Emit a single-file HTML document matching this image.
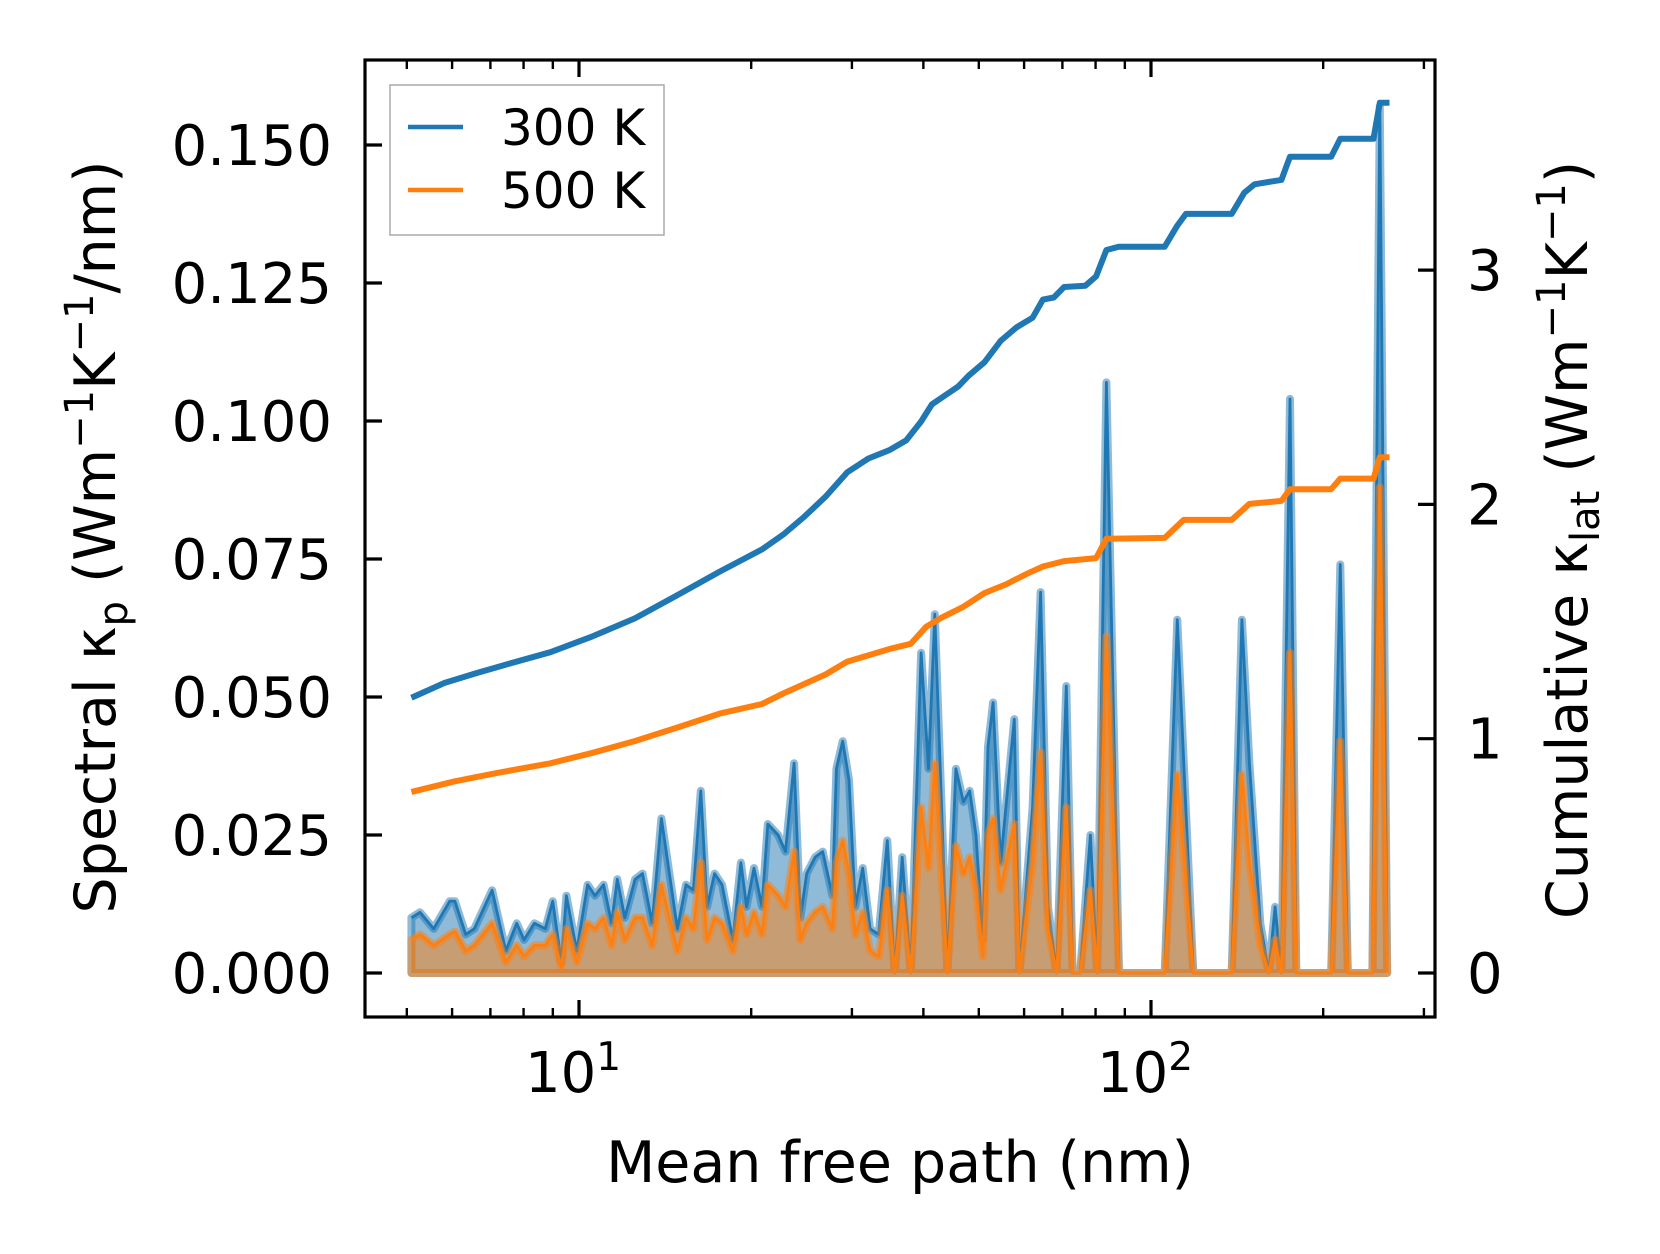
<!DOCTYPE html>
<html><head><meta charset="utf-8">
<style>
html,body{margin:0;padding:0;background:#fff;}
svg{display:block;font-family:"DejaVu Sans","Liberation Sans",sans-serif;}
</style></head>
<body>
<svg id="chart" width="1660" height="1254" viewBox="0 0 1660 1254" xmlns="http://www.w3.org/2000/svg">
<rect width="1660" height="1254" fill="#fff"/>
<g id="plot"></g>
<g id="axes"></g>
<text x="900" y="1182" font-size="57" text-anchor="middle">Mean free path (nm)</text>
<text transform="translate(115,537) rotate(-90)" font-size="57" text-anchor="middle">Spectral κ<tspan font-size="40" dy="12">p</tspan><tspan dy="-12"> (Wm</tspan><tspan font-size="40" dy="-22">−1</tspan><tspan dy="22">K</tspan><tspan font-size="40" dy="-22">−1</tspan><tspan dy="22">/nm)</tspan></text>
<text transform="translate(1587,540) rotate(-90)" font-size="57" text-anchor="middle">Cumulative κ<tspan font-size="40" dy="12">lat</tspan><tspan dy="-12"> (Wm</tspan><tspan font-size="40" dy="-22">−1</tspan><tspan dy="22">K</tspan><tspan font-size="40" dy="-22">−1</tspan><tspan dy="22">)</tspan></text>
<g>
<rect x="390" y="85" width="274" height="150" fill="#fff" stroke="#aaa" stroke-width="1.5"/>
<line x1="408" y1="127" x2="463" y2="127" stroke="#1f77b4" stroke-width="4.5"/>
<text x="501" y="145" font-size="50">300 K</text>
<line x1="408" y1="190" x2="463" y2="190" stroke="#ff7f0e" stroke-width="4.5"/>
<text x="501" y="208" font-size="50">500 K</text>
</g>
</svg>
<script>
// Spectral data: log10(mean free path / nm) and spectral kappa (x0.001)
const specExp = [0.707,0.722,0.746,0.774,0.783,0.802,0.817,0.848,0.872,0.891,0.904,0.922,0.941,0.954,0.969,0.978,0.996,1.015,1.028,1.043,1.057,1.067,1.080,1.098,1.111,1.128,1.144,1.172,1.187,1.200,1.213,1.224,1.237,1.250,1.269,1.283,1.293,1.306,1.320,1.330,1.348,1.361,1.376,1.387,1.398,1.413,1.426,1.443,1.450,1.461,1.472,1.483,1.496,1.509,1.524,1.539,1.552,1.565,1.580,1.598,1.611,1.622,1.644,1.659,1.672,1.683,1.694,1.706,1.715,1.724,1.737,1.761,1.770,1.793,1.807,1.820,1.835,1.852,1.863,1.876,1.894,1.906,1.922,1.944,2.024,2.046,2.074,2.141,2.159,2.172,2.191,2.206,2.217,2.228,2.243,2.254,2.315,2.331,2.344,2.387,2.400,2.413];
const spec300 = [10,11,8,13,13,7,8,15,4,9,6,9,8,13,2,14,4,16,14,16,9,17,10,17,18,9,28,8,16,15,33,12,18,16,6,20,12,19,12,27,25,22,38,10,18,21,22,14,37,42,35,12,19,8,7,24,0,21,0,58,37,65,0,37,31,33,25,6,41,49,20,46,0,30,69,12,0,52,0,0,25,0,107,0,0,64,0,0,64,38,9,0,12,0,104,0,0,74,0,0,157,0];
const spec500 = [6,7,5,7,7.5,4,5,9,2,5,3,5,5,7,1,8,2,9,8,10,5,11,6,10,10,5,16,4,10,8,20,6,10,9,4,12,7,11,7,16,14,12,22,6,9,11,12,8,20,24,18,7,11,4,3,15,0,14,0,30,19,38,0,23,18,21,15,3,25,28,15,27,0,20,40,8,0,30,0,0,15,0,61,0,0,36,0,0,36,20,5,0,6,0,58,0,0,42,0,0,88,0];
// Cumulative kappa (W/mK)
const cum300Exp = [0.707,0.765,0.820,0.876,0.950,1.024,1.098,1.172,1.246,1.320,1.357,1.394,1.431,1.469,1.506,1.543,1.572,1.598,1.617,1.644,1.663,1.681,1.709,1.737,1.765,1.793,1.811,1.830,1.848,1.885,1.904,1.922,1.944,2.024,2.046,2.061,2.141,2.163,2.181,2.228,2.243,2.315,2.331,2.389,2.400,2.417];
const cum300 = [1.175,1.238,1.279,1.319,1.369,1.437,1.514,1.613,1.713,1.808,1.871,1.948,2.033,2.137,2.196,2.232,2.273,2.354,2.427,2.472,2.503,2.549,2.607,2.698,2.756,2.797,2.874,2.883,2.928,2.933,2.973,3.086,3.100,3.100,3.190,3.240,3.240,3.330,3.366,3.385,3.484,3.484,3.561,3.561,3.714,3.714];
const cum500Exp = [0.707,0.783,0.857,0.950,1.024,1.098,1.172,1.246,1.320,1.357,1.431,1.469,1.543,1.580,1.607,1.635,1.672,1.709,1.746,1.783,1.811,1.848,1.904,1.922,2.024,2.057,2.141,2.172,2.228,2.243,2.315,2.331,2.389,2.400,2.417];
const cum500 = [0.773,0.818,0.854,0.895,0.940,0.990,1.048,1.107,1.148,1.193,1.274,1.329,1.383,1.405,1.478,1.518,1.563,1.622,1.658,1.704,1.735,1.758,1.771,1.853,1.857,1.934,1.934,2.002,2.015,2.065,2.065,2.110,2.110,2.201,2.201];
const leftTicks = [0,0.025,0.05,0.075,0.1,0.125,0.15];
const leftTickLabels = ["0.000","0.025","0.050","0.075","0.100","0.125","0.150"];
const rightTicks = [0,1,2,3];
const xMajorExp = [1,2];

const NS="http://www.w3.org/2000/svg";
const L=365,R=1435,T=60,B=1017;
const xS = e => 579 + (e-1)*572;
const yL = v => 973 - v/0.025*138;
const yR = v => 973 - v*234.3;
const plot=document.getElementById('plot'), axes=document.getElementById('axes');
function mk(tag,attrs,parent){const e=document.createElementNS(NS,tag);for(const k in attrs)e.setAttribute(k,attrs[k]);parent.appendChild(e);return e;}

function spectral(vals,color,name){
  let pts=specExp.map((e,i)=>xS(e).toFixed(1)+','+yL(vals[i]/1000).toFixed(1));
  let area='M'+xS(specExp[0]).toFixed(1)+','+yL(0)+' L'+pts.join(' L')+' L'+xS(specExp[specExp.length-1]).toFixed(1)+','+yL(0)+' Z';
  const a=mk('path',{d:area,fill:color,'fill-opacity':0.5,stroke:color,'stroke-opacity':0.5,'stroke-width':8,'stroke-linejoin':'round'},plot);
  
  
  const l=mk('polyline',{points:pts.join(' '),fill:'none',stroke:color,'stroke-width':2.8,'stroke-linejoin':'round'},plot);
  
  
}
spectral(spec300,'#1f77b4','300k');
spectral(spec500,'#ff7f0e','500k');
function cum(ex,vals,color,name){
  const pts=ex.map((e,i)=>xS(e).toFixed(1)+','+yR(vals[i]).toFixed(1)).join(' ');
  const l=mk('polyline',{points:pts,fill:'none',stroke:color,'stroke-width':6,'stroke-linejoin':'round'},plot);
  
  
}
cum(cum300Exp,cum300,'#1f77b4','300k');
cum(cum500Exp,cum500,'#ff7f0e','500k');

const sp=mk('rect',{x:L,y:T,width:R-L,height:B-T,fill:'none',stroke:'#000','stroke-width':3.2},axes);


leftTicks.forEach((v,i)=>{
  const y=yL(v);
  const t=mk('line',{x1:L,x2:L+17,y1:y,y2:y,stroke:'#000','stroke-width':3.2},axes);
  
  
  const tx=mk('text',{x:332,y:y+20,'font-size':56,'text-anchor':'end'},axes);
  tx.textContent=leftTickLabels[i];
  
  
});
rightTicks.forEach(v=>{
  const y=yR(v);
  const t=mk('line',{x1:R-17,x2:R,y1:y,y2:y,stroke:'#000','stroke-width':3.2},axes);
  
  
  const tx=mk('text',{x:1467,y:y+20,'font-size':56},axes);
  tx.textContent=String(v);
  
  
});
for(let d=0;d<=2;d++){
  for(let m=1;m<10;m++){
    const e=d+Math.log10(m);
    const x=xS(e);
    if(x<L||x>R)continue;
    const len=m===1?17:9;
    [[B,B-len],[T,T+len]].forEach(p=>{
      const t=mk('line',{x1:x,x2:x,y1:p[0],y2:p[1],stroke:'#000','stroke-width':m===1?3.2:2.4},axes);
      
      
    });
  }
}
xMajorExp.forEach(e=>{
  const tx=mk('text',{x:xS(e)-6,y:1092,'font-size':56,'text-anchor':'middle'},axes);
  tx.innerHTML='10<tspan font-size="39" dy="-22">'+e+'</tspan>';
  
  
});
</script>
</body></html>
